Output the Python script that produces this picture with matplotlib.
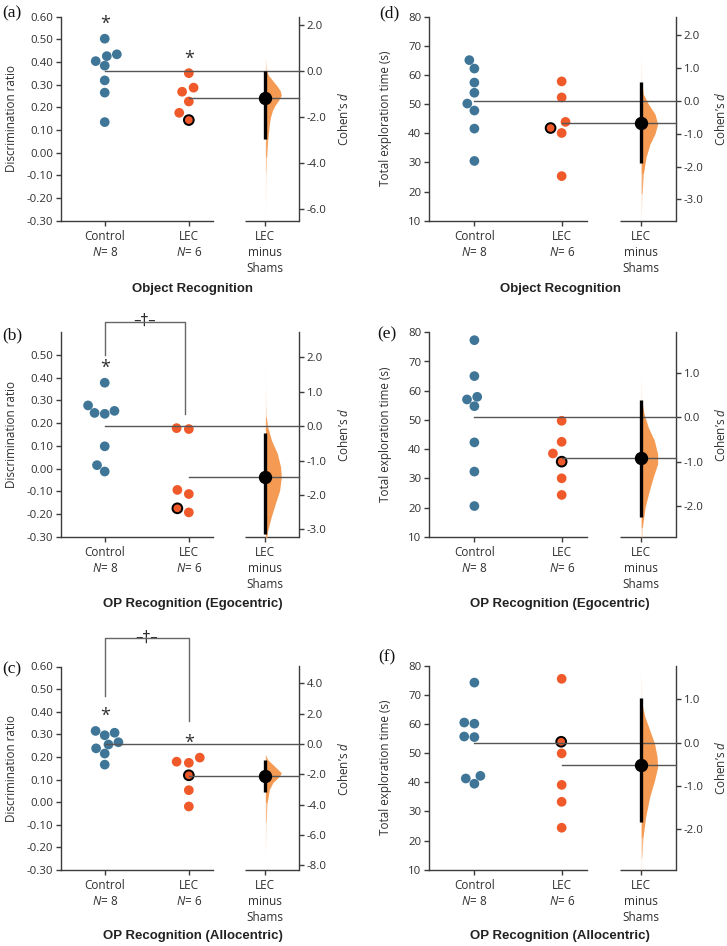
import numpy as np
import pandas as pd
import matplotlib
matplotlib.use("Agg")
import matplotlib.pyplot as plt
import seaborn as sns
from matplotlib.ticker import FixedLocator, FuncFormatter

plt.rcParams['font.family'] = ['Open Sans', 'DejaVu Sans']
plt.rcParams['mathtext.fontset'] = 'custom'
plt.rcParams['mathtext.rm'] = 'Open Sans'
plt.rcParams['mathtext.it'] = 'Open Sans:italic'
plt.rcParams['axes.unicode_minus'] = False

# ---------------- data ----------------
groups = ['Control', 'LEC']
diff_label = 'LEC\nminus\nShams'

titles = ['Object Recognition', 'OP Recognition (Egocentric)', 'OP Recognition (Allocentric)']

# Discrimination ratio (left column)
ctrl_a = [0.503, 0.434, 0.426, 0.404, 0.384, 0.319, 0.265, 0.135]
lec_a = [0.351, 0.287, 0.269, 0.226, 0.176, 0.144]
ctrl_b = [0.378, 0.278, 0.254, 0.245, 0.241, 0.098, 0.015, -0.013]
lec_b = [0.178, 0.174, -0.094, -0.112, -0.175, -0.193]
ctrl_c = [0.315, 0.307, 0.296, 0.265, 0.255, 0.238, 0.215, 0.166]
lec_c = [0.197, 0.179, 0.174, 0.119, 0.053, -0.019]

# Total exploration time (right column)
ctrl_d = [65.1, 62.2, 57.4, 53.9, 50.2, 47.8, 41.6, 30.5]
lec_d = [57.8, 52.3, 43.9, 41.8, 40.1, 25.3]
ctrl_e = [77.3, 65.0, 57.9, 57.0, 54.7, 42.3, 32.3, 20.5]
lec_e = [49.7, 42.5, 38.5, 35.7, 30.0, 24.3]
ctrl_f = [74.2, 60.5, 60.1, 55.7, 55.5, 42.2, 41.3, 39.5]
lec_f = [75.5, 53.9, 49.9, 39.1, 33.3, 24.4]

# highlighted LEC animal (index in LEC list)
hi_a, hi_b, hi_c, hi_d, hi_e, hi_f = 5, 4, 3, 3, 3, 1

# 95% CI of Cohen's d
ci_a = [-2.93, 0.0]
ci_b = [-3.13, -0.195]
ci_c = [-3.14, -1.03]
ci_d = [-1.90, 0.57]
ci_e = [-2.25, 0.39]
ci_f = [-1.85, 1.04]

# bootstrap distribution of Cohen's d (levels, relative width)
dlev_a = [0.9, 0.48, 0.04, -0.17, -0.39, -0.61, -0.83, -1.04, -1.26, -1.48, -1.70, -2.0, -2.26, -3.0, -3.74, -4.43, -5.6, -6.4]
dwid_a = [0, 0.3, 1.2, 3, 7, 11, 14.5, 15.7, 13, 9.5, 7, 5, 4, 2.3, 1.3, 0.7, 0.3, 0]
dlev_b = [2.1, 1.05, 0.56, 0.27, -0.02, -0.41, -0.79, -1.19, -1.48, -1.87, -2.26, -2.64, -3.03, -3.3]
dwid_b = [0, 0.3, 0.6, 1, 2.3, 6, 11.7, 15, 15.7, 14, 9.7, 5.7, 2.3, 1.2]
dlev_c = [-0.6, -0.75, -1.03, -1.46, -1.9, -2.12, -2.55, -2.99, -3.86, -5.15, -6.7, -7.4]
dwid_c = [0, 0.5, 2.3, 9, 15.7, 14, 7.3, 4, 1.7, 0.8, 0.3, 0]
dlev_d = [1.43, 0.57, 0.21, -0.09, -0.40, -0.70, -1.0, -1.31, -1.71, -2.22, -2.83, -3.6]
dwid_d = [0, 0.7, 2.3, 7.3, 14, 16.7, 14, 9, 5, 2.3, 1, 0]
dlev_e = [0.91, 0.39, 0.08, -0.23, -0.52, -0.83, -1.05, -1.35, -1.66, -2.04, -2.49, -2.75]
dwid_e = [0, 0.7, 3, 7.3, 13.3, 16.7, 16.7, 12.3, 8.3, 4, 1.3, 0.8]
dlev_f = [1.8, 0.91, 0.6, 0.29, -0.02, -0.33, -0.57, -0.88, -1.26, -1.73, -2.2, -2.67, -3.0]
dwid_f = [0, 0.7, 4, 9, 14, 16.7, 17.3, 14, 9, 4.7, 2, 0.7, 0.3]

# axis ticks
yt_dr_full = [-0.30, -0.20, -0.10, 0.00, 0.10, 0.20, 0.30, 0.40, 0.50, 0.60]
yt_dr_b = [-0.30, -0.20, -0.10, 0.00, 0.10, 0.20, 0.30, 0.40, 0.50]
yt_time = [10, 20, 30, 40, 50, 60, 70, 80]
dt_a = [-6.0, -4.0, -2.0, 0.0, 2.0]
dt_b = [-3.0, -2.0, -1.0, 0.0, 1.0, 2.0]
dt_c = [-8.0, -6.0, -4.0, -2.0, 0.0, 2.0, 4.0]
dt_d = [-3.0, -2.0, -1.0, 0.0, 1.0, 2.0]
dt_e = [-2.0, -1.0, 0.0, 1.0]
dt_f = [-2.0, -1.0, 0.0, 1.0]

# significance marks
stars_a = [True, True]
stars_b = [True, False]
stars_c = [True, True]

# ---------------- style ----------------
C_CTRL = '#3f7697'
C_LEC = '#f05a2a'
C_VIOL = '#f59a52'
TEXT = '#2f2f2f'
SPINE = '#3c3c3c'
LINE = '#555555'

W_PX, H_PX = 727, 946
fig = plt.figure(figsize=(W_PX / 100, H_PX / 100), dpi=100)


def rect(x0, x1, y0, y1):
    return [x0 / W_PX, 1 - y1 / H_PX, (x1 - x0) / W_PX, (y1 - y0) / H_PX]


XL, XR = -0.52, 2.31
DIFF_X = 1.91
SEG1_END, SEG2_START = 1.29, 1.667
MAXW = 0.19


def draw_panel(r, ctrl, lec, hi, ylim, yticks, ydec, dticks, ci, dlev, dwid,
               ylabel, ylab_x, dlab_x, stars=None, bracket=None):
    ax = fig.add_axes(r)
    df = pd.DataFrame({'group': [groups[0]] * len(ctrl) + [groups[1]] * len(lec),
                       'value': list(ctrl) + list(lec)})
    n0 = len(ax.collections)
    sns.swarmplot(data=df, x='group', y='value', hue='group', order=groups,
                  hue_order=groups, palette=[C_CTRL, C_LEC], size=7.0,
                  linewidth=0, ax=ax, legend=False, zorder=3)
    lec_coll = ax.collections[n0 + 1]
    n = len(lec)
    ec = np.zeros((n, 4))
    ec[hi] = (0, 0, 0, 1)
    lec_coll.set_edgecolors(ec)
    lec_coll.set_linewidths(1.4)

    ax.set_xlim(XL, XR)
    ax.set_ylim(*ylim)
    ax.set_xticks([0, 1, DIFF_X])
    ax.set_xticklabels([f'{groups[0]}\n$N$= {len(ctrl)}',
                        f'{groups[1]}\n$N$= {len(lec)}', diff_label],
                       fontsize=8.5, color=TEXT, linespacing=1.3)
    ax.yaxis.set_major_locator(FixedLocator(yticks))
    ax.yaxis.set_major_formatter(FuncFormatter(lambda v, p: f'{v:.{ydec}f}'))
    ax.set_xlabel('')
    ax.set_ylabel(ylabel, fontsize=8.4, color=TEXT)
    ax.yaxis.set_label_coords(ylab_x, 0.5)
    for s in ['top', 'right']:
        ax.spines[s].set_visible(False)
    for s in ['left', 'bottom']:
        ax.spines[s].set_color(SPINE)
        ax.spines[s].set_linewidth(1.0)
    ax.spines['bottom'].set_bounds(XL, SEG1_END)
    ax.plot([SEG2_START, XR], [0, 0], transform=ax.get_xaxis_transform(),
            color=SPINE, lw=1.0, clip_on=False, solid_capstyle='butt')
    ax.tick_params(axis='both', direction='out', length=3.5, width=1.0,
                   color=SPINE, labelcolor=TEXT, pad=2)
    ax.tick_params(axis='y', labelsize=8.2)
    ax.tick_params(axis='x', pad=3)

    # effect-size axis
    cm, lm = np.mean(ctrl), np.mean(lec)
    n1, n2 = len(ctrl), len(lec)
    sd = np.sqrt(((n1 - 1) * np.var(ctrl, ddof=1) + (n2 - 1) * np.var(lec, ddof=1)) / (n1 + n2 - 2))
    d_eff = (lm - cm) / sd
    ax2 = ax.twinx()
    ax2.set_ylim((ylim[0] - cm) / sd, (ylim[1] - cm) / sd)
    ax2.yaxis.set_major_locator(FixedLocator(dticks))
    ax2.yaxis.set_major_formatter(FuncFormatter(lambda v, p: f'{v:.1f}'))
    for s in ['top', 'left', 'bottom']:
        ax2.spines[s].set_visible(False)
    ax2.spines['right'].set_color(SPINE)
    ax2.spines['right'].set_linewidth(1.0)
    ax2.tick_params(axis='y', direction='out', length=3.5, width=1.0,
                    color=SPINE, labelcolor=TEXT, labelsize=8.2, pad=2)
    ax2.set_ylabel('Cohen\u2019s $d$', fontsize=8.4, color=TEXT)
    ax2.yaxis.set_label_coords(dlab_x, 0.5)

    # mean reference lines
    ax2.plot([0, XR], [0, 0], color=LINE, lw=1.0, zorder=3, clip_on=False)
    ax2.plot([1, XR], [d_eff, d_eff], color=LINE, lw=1.0, zorder=3, clip_on=False)

    # half-violin: solid core drawn as one polygon, faint tails as fading bands
    rel = np.asarray(dwid, float) / max(dwid)
    lev = np.asarray(dlev, float)
    band_alpha = np.array([min(1.0, 6.0 * max(rel[i], rel[i + 1])) for i in range(len(lev) - 1)])
    solid = np.where(band_alpha >= 1.0)[0]
    i0, i1 = solid[0], solid[-1] + 1
    ax2.fill_betweenx(lev[i0:i1 + 1], DIFF_X, DIFF_X + MAXW * rel[i0:i1 + 1],
                      color=C_VIOL, lw=0, zorder=2)
    for i in range(len(lev) - 1):
        if i0 <= i < i1:
            continue
        ax2.fill_betweenx([lev[i], lev[i + 1]], DIFF_X,
                          [DIFF_X + MAXW * rel[i], DIFF_X + MAXW * rel[i + 1]],
                          color=C_VIOL, alpha=band_alpha[i], lw=0, zorder=2)
    # CI + point
    ax2.plot([DIFF_X, DIFF_X], ci, color='black', lw=2.4, solid_capstyle='butt', zorder=5)
    ax2.plot([DIFF_X], [d_eff], 'o', ms=8.6, color='black', zorder=6)

    # stars
    if stars is not None:
        for xi, (flag, vals) in enumerate(zip(stars, [ctrl, lec])):
            if flag:
                ax.annotate('*', xy=(xi, max(vals)), xytext=(0, 7), textcoords='offset points',
                            ha='center', va='baseline', fontsize=13, color=TEXT,
                            annotation_clip=False)
    if bracket is not None:
        ytop, yl0, yl1, xr = bracket
        ax.plot([0, 0, xr, xr], [yl0, ytop, ytop, yl1], color='#666666', lw=1.0,
                clip_on=False, zorder=4)
        ax.annotate('\u2013\u2020\u2013', xy=((0 + xr) / 2, ytop), xytext=(0, 0.7),
                    textcoords='offset points', ha='center', va='center',
                    fontsize=11, color=TEXT, annotation_clip=False,
                    family=['DejaVu Sans'])
    return ax


LX0, LX1 = 61, 299
RX0, RX1 = 429, 676
rows = [(16.7, 220.7), (332.3, 536.7), (666.5, 870.0)]
rows_r = [(16.7, 220.7), (332.3, 536.7), (665.7, 869.7)]

dr_label = 'Discrimination ratio'
tm_label = 'Total exploration time (s)'

draw_panel(rect(LX0, LX1, *rows[0]), ctrl_a, lec_a, hi_a, (-0.30, 0.60), yt_dr_full, 2,
           dt_a, ci_a, dlev_a, dwid_a, dr_label, -0.181, 1.16, stars=stars_a)
draw_panel(rect(LX0, LX1, *rows[1]), ctrl_b, lec_b, hi_b, (-0.30, 0.60), yt_dr_b, 2,
           dt_b, ci_b, dlev_b, dwid_b, dr_label, -0.181, 1.16, stars=stars_b,
           bracket=(0.647, 0.50, 0.239, 0.96))
draw_panel(rect(LX0, LX1, *rows[2]), ctrl_c, lec_c, hi_c, (-0.30, 0.60), yt_dr_full, 2,
           dt_c, ci_c, dlev_c, dwid_c, dr_label, -0.181, 1.16, stars=stars_c,
           bracket=(0.726, 0.47, 0.357, 1.0))
draw_panel(rect(RX0, RX1, *rows_r[0]), ctrl_d, lec_d, hi_d, (10, 80), yt_time, 0,
           dt_d, ci_d, dlev_d, dwid_d, tm_label, -0.150, 1.154)
draw_panel(rect(RX0, RX1, *rows_r[1]), ctrl_e, lec_e, hi_e, (10, 80), yt_time, 0,
           dt_e, ci_e, dlev_e, dwid_e, tm_label, -0.150, 1.154)
draw_panel(rect(RX0, RX1, *rows_r[2]), ctrl_f, lec_f, hi_f, (10, 80), yt_time, 0,
           dt_f, ci_f, dlev_f, dwid_f, tm_label, -0.150, 1.154)

# titles
title_y = [289, 604, 935.7]
for t, y in zip(titles, title_y):
    fig.text(193 / W_PX, 1 - y / H_PX, t, ha='center', va='center',
             fontsize=9.5, fontweight='bold', family='Liberation Sans', color='#222222')
    fig.text(560 / W_PX, 1 - y / H_PX, t, ha='center', va='center',
             fontsize=9.5, fontweight='bold', family='Liberation Sans', color='#222222')

# panel letters
letters = [('(a)', 2, 13), ('(b)', 2, 335), ('(c)', 2, 669),
           ('(d)', 379, 13), ('(e)', 377, 334), ('(f)', 378, 657)]
for s, x, y in letters:
    fig.text(x / W_PX, 1 - y / H_PX, s, ha='left', va='center', fontsize=12.5,
             family='Liberation Serif', color='#111111')

fig.savefig('out.png', dpi=100)
